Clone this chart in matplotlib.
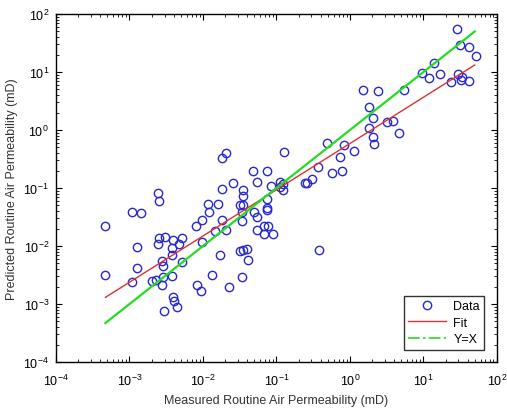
import numpy as np
import matplotlib
matplotlib.use('Agg')
import matplotlib.pyplot as plt
from matplotlib.lines import Line2D
from matplotlib.ticker import LogLocator, NullFormatter

plt.rcParams['font.family'] = ['Liberation Sans', 'DejaVu Sans']

# measured vs predicted routine air permeability (mD)
measured = [
	4.6e-4, 4.7e-4, 1.07e-3, 1.42e-3, 1.25e-3, 1.25e-3, 1.07e-3, 2.47e-3, 2.52e-3, 2.54e-3,
	3.04e-3, 2.47e-3, 3.91e-3, 5.18e-3, 4.74e-3, 3.75e-3, 3.73e-3, 2.74e-3, 2.88e-3, 5.13e-3,
	2.0e-3, 2.30e-3, 2.88e-3, 3.75e-3, 2.77e-3, 3.94e-3, 3.99e-3, 4.47e-3, 2.94e-3, 8.2e-3,
	9.3e-3, 7.96e-3, 9.6e-3, 9.8e-3, 0.0118, 0.016, 0.0120, 0.0179, 0.0146, 0.0206,
	0.0179, 0.0207, 0.0258, 0.0179, 0.0353, 0.0353, 0.0318, 0.0347, 0.0336, 0.0336,
	0.0494, 0.0543, 0.0551, 0.0676, 0.0758, 0.0676, 0.0904, 0.0736, 0.0736, 0.075,
	0.0834, 0.0538, 0.0483, 0.075, 0.128, 0.113, 0.124, 0.112, 0.124, 0.017,
	0.0318, 0.0353, 0.0401, 0.0413, 0.0134, 0.034, 0.0228, 0.244, 0.262, 0.301,
	0.371, 0.564, 0.771, 0.731, 0.482, 0.821, 1.14, 0.382, 1.52, 2.43,
	1.81, 2.08, 1.82, 2.04, 2.10, 3.16, 3.88, 4.6, 5.46, 9.6,
	11.8, 16.6, 14.0, 23.4, 28.3, 31.4, 41.6, 51.3, 29.2, 33.7,
	32.7, 41.6,
]
predicted = [
	0.0217, 3.2e-3, 0.0386, 0.0371, 9.8e-3, 4.2e-3, 2.4e-3, 0.082, 0.0597, 0.0136,
	0.0143, 0.0110, 0.0129, 0.0136, 0.0110, 9.1e-3, 7.0e-3, 5.6e-3, 4.5e-3, 5.3e-3,
	2.5e-3, 2.6e-3, 2.9e-3, 3.1e-3, 2.1e-3, 1.33e-3, 1.14e-3, 8.8e-4, 7.5e-4, 2.1e-3,
	1.66e-3, 0.0217, 0.0286, 0.0116, 0.054, 0.054, 0.0386, 0.028, 0.0184, 0.0189,
	0.333, 0.406, 0.122, 0.096, 0.0912, 0.0736, 0.0515, 0.0505, 0.0386, 0.027,
	0.0386, 0.0313, 0.019, 0.0224, 0.0224, 0.0161, 0.0161, 0.0457, 0.0418, 0.0646,
	0.110, 0.129, 0.199, 0.199, 0.426, 0.127, 0.115, 0.103, 0.0925, 7.0e-3,
	8.3e-3, 8.6e-3, 8.8e-3, 5.8e-3, 3.2e-3, 2.9e-3, 2.0e-3, 0.121, 0.122, 0.143,
	0.233, 0.185, 0.199, 0.342, 0.604, 0.558, 0.44, 8.6e-3, 4.9, 4.7,
	2.46, 1.61, 1.07, 0.748, 0.574, 1.37, 1.45, 0.887, 4.9, 9.5,
	7.8, 9.2, 14.3, 6.7, 55.0, 29.2, 26.7, 18.7, 9.1, 8.3,
	7.4, 7.1,
]

decades = [1e-4, 1e-3, 1e-2, 1e-1, 1e0, 1e1, 1e2]
decadeLabels = [r'$\mathregular{10^{%d}}$' % int(np.log10(d)) for d in decades]

# power-law fit in log space: log10(y) = slope*log10(x) + intercept
fitSlope = 0.797
fitIntercept = -0.233
lineRange = [4.7e-4, 50.0]

dataColor = '#2828d0'
fitColor = '#e03030'
unityColor = '#22dd22'

fig = plt.figure(figsize=(5.07, 4.10), dpi=100)
ax = fig.add_axes([0.1105, 0.1146, 0.8695, 0.8488])

xLine = np.logspace(np.log10(lineRange[0]), np.log10(lineRange[1]), 100)
ax.plot(measured, predicted, linestyle='none', marker='o', markersize=6,
	markerfacecolor='none', markeredgecolor=dataColor, markeredgewidth=1.0)
ax.plot(xLine, 10 ** (fitSlope * np.log10(xLine) + fitIntercept), color=fitColor, linewidth=1.0)
# the dash-dot pattern renders almost solid in the original plot
ax.plot(xLine, xLine, color=unityColor, linewidth=1.6)

ax.set_xscale('log')
ax.set_yscale('log')
ax.set_xlim(decades[0], decades[-1])
ax.set_ylim(decades[0], decades[-1])
ax.set_xticks(decades, decadeLabels)
ax.set_yticks(decades, decadeLabels)

for axis in [ax.xaxis, ax.yaxis]:
	axis.set_minor_locator(LogLocator(base=10, subs=np.arange(2, 10), numticks=20))
	axis.set_minor_formatter(NullFormatter())

ax.tick_params(which='both', direction='in', top=True, right=True, labelsize=9)
ax.tick_params(which='major', length=4)
ax.tick_params(which='minor', length=2)
ax.tick_params(axis='x', which='major', pad=8)
ax.tick_params(axis='y', which='major', pad=5)
for spine in ax.spines.values():
	spine.set_linewidth(1.0)

ax.set_xlabel('Measured Routine Air Permeability (mD)', fontsize=9, color='#333333', labelpad=4)
ax.set_ylabel('Predicted Routine Air Permeability (mD)', fontsize=9, color='#333333', labelpad=4)

handles = [
	Line2D([], [], linestyle='none', marker='o', markersize=6, markerfacecolor='none',
		markeredgecolor=dataColor, markeredgewidth=1.0),
	Line2D([], [], color=fitColor, linewidth=1.0),
	Line2D([], [], color=unityColor, linewidth=1.2, linestyle=(0, (7, 2, 1.5, 2))),
]
leg = ax.legend(handles, ['Data', 'Fit', 'Y=X'], loc='lower right', fontsize=9,
	frameon=True, fancybox=False, edgecolor='black', borderaxespad=1.0,
	handlelength=3.0, handletextpad=0.6, labelspacing=0.35, borderpad=0.35)
leg.get_frame().set_linewidth(1.0)

fig.savefig('out.png', dpi=100)
